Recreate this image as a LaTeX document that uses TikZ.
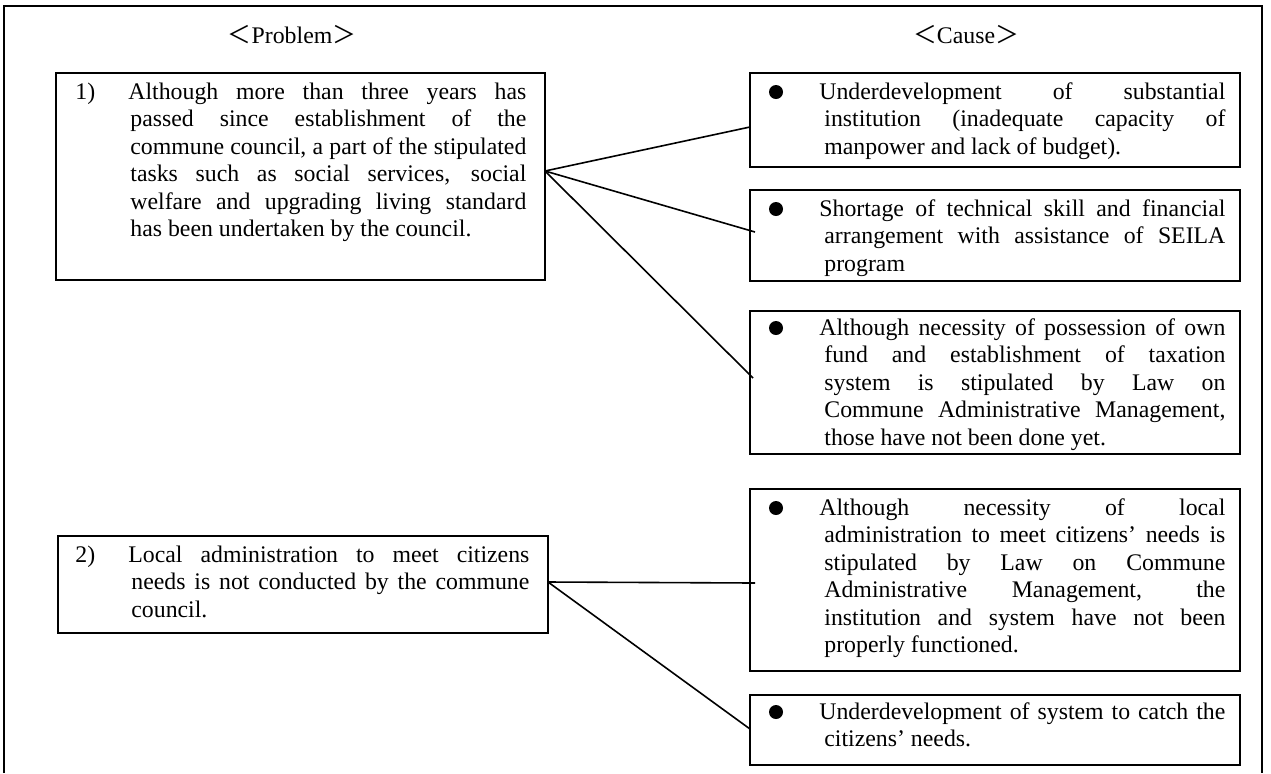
\documentclass[tikz,border=0pt]{standalone}
\usepackage{fontspec}
\setmainfont{Liberation Serif}
\newfontfamily\cjkfont{Noto Sans CJK JP}
\usetikzlibrary{fit}

% paragraph blocks built line by line: justified lines and a ragged last line
\newlength\colw
\newlength\firstshift
\newcommand\textblock[3]{\vtop{\colw=#1\relax\firstshift=#2\relax
  \baselineskip=13.75pt\relax\lineskiplimit=-10pt\relax #3}}
\newcommand\firstln[1]{\hbox to \colw{\hskip-\firstshift\relax #1}}
\newcommand\justln[1]{\hbox to \colw{#1}}
\newcommand\lastln[1]{\hbox to \colw{#1\hfil}}

\tikzset{
  box/.style={draw, line width=0.8pt, inner sep=0pt},
  txt/.style={anchor=base west, inner sep=0pt, font=\fontsize{11.9pt}{13.75pt}\selectfont},
  head/.style={anchor=base, inner sep=0pt, font=\fontsize{11.9pt}{13.75pt}\selectfont},
  dot/.style={circle, fill=black, inner sep=0pt, minimum size=7pt},
  link/.style={line width=0.8pt},
}

\begin{document}
\begin{tikzpicture}[x=0.5pt, y=-0.5pt]
\useasboundingbox (0,0) rectangle (1271,773);

% outer frame, open at the bottom
\draw[line width=0.8pt] (4,773) -- (4,6) -- (1262,6) -- (1262,773);

% column headings
\node[head] (hprob) at (292,43) {{\cjkfont ＜}Problem{\cjkfont ＞}};
\node[head] (hcause) at (966,43) {{\cjkfont ＜}Cause{\cjkfont ＞}};

% problem boxes
\node[box, fit={(56,73) (545,280)}] (L1) {};
\node[box, fit={(58,536) (548,633)}] (L2) {};

% cause boxes
\node[box, fit={(750,73) (1240,167)}] (R1) {};
\node[box, fit={(750,190) (1240,281)}] (R2) {};
\node[box, fit={(750,311) (1240,454)}] (R3) {};
\node[box, fit={(750,489) (1240,671)}] (R4) {};
\node[box, fit={(750,695) (1240,765)}] (R5) {};

% problem texts
\node[txt] (n1) at (75,99) {1)};
\node[txt] (p1) at (130,99) {\textblock{198pt}{1pt}{%
  \firstln{Although more than three years has}
  \justln{passed since establishment of the}
  \justln{commune council, a part of the stipulated}
  \justln{tasks such as social services, social}
  \justln{welfare and upgrading living standard}
  \lastln{has been undertaken by the council.}}};

\node[txt] (n2) at (75,562) {2)};
\node[txt] (p2) at (131,562) {\textblock{199pt}{1.5pt}{%
  \firstln{Local administration to meet citizens}
  \justln{needs is not conducted by the commune}
  \lastln{council.}}};

% cause texts with bullets
\node[dot] (b1) at (776,92) {};
\node[txt] (c1) at (824,99) {\textblock{200.5pt}{2.5pt}{%
  \firstln{Underdevelopment of substantial}
  \justln{institution (inadequate capacity of}
  \lastln{manpower and lack of budget).}}};

\node[dot] (b2) at (776,209) {};
\node[txt] (c2) at (824,216) {\textblock{200.5pt}{2.5pt}{%
  \firstln{Shortage of technical skill and financial}
  \justln{arrangement with assistance of SEILA}
  \lastln{program}}};

\node[dot] (b3) at (776,328) {};
\node[txt] (c3) at (824,335) {\textblock{200.5pt}{2.5pt}{%
  \firstln{Although necessity of possession of own}
  \justln{fund and establishment of taxation}
  \justln{system is stipulated by Law on}
  \justln{Commune Administrative Management,}
  \lastln{those have not been done yet.}}};

\node[dot] (b4) at (776,508) {};
\node[txt] (c4) at (824,515) {\textblock{200.5pt}{2.5pt}{%
  \firstln{Although necessity of local}
  \justln{administration to meet citizens’ needs is}
  \justln{stipulated by Law on Commune}
  \justln{Administrative Management, the}
  \justln{institution and system have not been}
  \lastln{properly functioned.}}};

\node[dot] (b5) at (776,712) {};
\node[txt] (c5) at (824,719) {\textblock{200.5pt}{2.5pt}{%
  \firstln{Underdevelopment of system to catch the}
  \lastln{citizens’ needs.}}};

% connector ends
\coordinate (o1) at (545,171);
\coordinate (o2) at (548,582);
\coordinate (e1) at (750,127);
\coordinate (e2) at (755,232);
\coordinate (e3) at (753,378);
\coordinate (e4) at (755,583);
\coordinate (e5) at (750,729);

% connectors from problems to causes
\draw[link] (o1) -- (e1);
\draw[link] (o1) -- (e2);
\draw[link] (o1) -- (e3);
\draw[link] (o2) -- (e4);
\draw[link] (o2) -- (e5);
\end{tikzpicture}
\end{document}
